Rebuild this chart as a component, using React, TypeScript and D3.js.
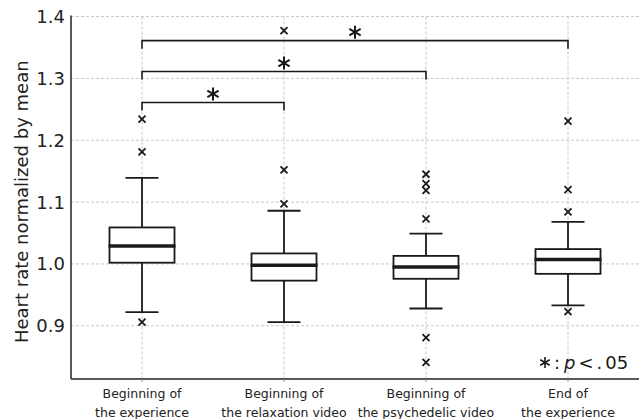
import React, { useEffect, useRef } from 'react';
import * as d3 from 'd3';

const categories = ['c1', 'c2', 'c3', 'c4'];
const categoryLabels = [
  ['Beginning of', 'the experience'],
  ['Beginning of', 'the relaxation video'],
  ['Beginning of', 'the psychedelic video'],
  ['End of', 'the experience'],
];
const whiskerLow = [0.922, 0.906, 0.928, 0.933];
const q1 = [1.002, 0.973, 0.976, 0.984];
const median = [1.029, 0.998, 0.995, 1.007];
const q3 = [1.059, 1.017, 1.013, 1.024];
const whiskerHigh = [1.139, 1.086, 1.049, 1.068];
const outliers = [
  [1.234, 1.181, 0.906],
  [1.377, 1.152, 1.097],
  [1.145, 1.13, 1.119, 1.073, 0.881, 0.841],
  [1.231, 1.12, 1.084, 0.923],
];
const brackets = [
  { from: 0, to: 1, level: 1.261 },
  { from: 0, to: 2, level: 1.311 },
  { from: 0, to: 3, level: 1.361 },
];
const yTicks = [0.9, 1.0, 1.1, 1.2, 1.3, 1.4];

const FONT = '"DejaVu Sans", sans-serif';

const App = () => {
  const svgRef = useRef<SVGSVGElement>(null);

  useEffect(() => {
    const width = 641;
    const height = 419;
    const left = 71;
    const right = 639;
    const top = 16.5;
    const bottom = 379;

    const svg = d3.select(svgRef.current);
    svg.selectAll('*').remove();
    svg.attr('width', width).attr('height', height);

    const x = d3.scaleBand().domain(categories).range([left, right]).padding(0);
    const cx = (i: number) => (x(categories[i]) as number) + x.bandwidth() / 2;
    const y = d3.scaleLinear().domain([0.814, 1.4]).range([bottom, top]);

    // grid
    const grid = svg.append('g')
      .attr('stroke', '#c8c8c8')
      .attr('stroke-width', 1)
      .attr('stroke-dasharray', '3,2');
    yTicks.forEach(t => {
      grid.append('line')
        .attr('x1', left).attr('x2', width)
        .attr('y1', y(t)).attr('y2', y(t));
    });
    categories.forEach((_, i) => {
      grid.append('line')
        .attr('x1', cx(i)).attr('x2', cx(i))
        .attr('y1', top).attr('y2', bottom);
    });

    // axes
    svg.append('line')
      .attr('x1', left).attr('x2', left)
      .attr('y1', top - 1).attr('y2', bottom)
      .attr('stroke', '#222').attr('stroke-width', 1.5);
    svg.append('line')
      .attr('x1', left).attr('x2', right)
      .attr('y1', bottom).attr('y2', bottom)
      .attr('stroke', '#222').attr('stroke-width', 1.5);

    yTicks.forEach(t => {
      svg.append('text')
        .attr('x', left - 6)
        .attr('y', y(t))
        .attr('dy', '0.36em')
        .attr('text-anchor', 'end')
        .attr('font-family', FONT)
        .attr('font-size', 18)
        .attr('fill', '#222')
        .text(d3.format('.1f')(t));
    });

    categoryLabels.forEach((lines, i) => {
      svg.append('line')
        .attr('x1', cx(i)).attr('x2', cx(i))
        .attr('y1', bottom).attr('y2', bottom + 3)
        .attr('stroke', '#888').attr('stroke-width', 1);
      lines.forEach((ln, j) => {
        svg.append('text')
          .attr('x', cx(i))
          .attr('y', 398 + j * 18.5)
          .attr('text-anchor', 'middle')
          .attr('font-family', FONT)
          .attr('font-size', 12.5)
          .attr('fill', '#222')
          .text(ln);
      });
    });

    // y label
    svg.append('text')
      .attr('transform', `translate(28,${(top + bottom) / 2 + 4}) rotate(-90)`)
      .attr('text-anchor', 'middle')
      .attr('font-family', FONT)
      .attr('font-size', 18)
      .attr('fill', '#222')
      .text('Heart rate normalized by mean');

    // boxes
    const boxW = 65;
    const capW = 33;
    categories.forEach((_, i) => {
      const g = svg.append('g').attr('stroke', '#1a1a1a').attr('fill', 'none');
      const c = cx(i);
      g.append('line').attr('x1', c).attr('x2', c)
        .attr('y1', y(whiskerHigh[i])).attr('y2', y(q3[i])).attr('stroke-width', 1.8);
      g.append('line').attr('x1', c).attr('x2', c)
        .attr('y1', y(q1[i])).attr('y2', y(whiskerLow[i])).attr('stroke-width', 1.8);
      [whiskerHigh[i], whiskerLow[i]].forEach(v => {
        g.append('line')
          .attr('x1', c - capW / 2).attr('x2', c + capW / 2)
          .attr('y1', y(v)).attr('y2', y(v)).attr('stroke-width', 1.8);
      });
      g.append('rect')
        .attr('x', c - boxW / 2).attr('width', boxW)
        .attr('y', y(q3[i])).attr('height', y(q1[i]) - y(q3[i]))
        .attr('fill', 'white').attr('stroke-width', 1.8);
      g.append('line')
        .attr('x1', c - boxW / 2 - 1).attr('x2', c + boxW / 2 + 1)
        .attr('y1', y(median[i])).attr('y2', y(median[i]))
        .attr('stroke-width', 3.5);
      outliers[i].forEach(v => {
        const s = 3.5;
        const py = y(v);
        g.append('path')
          .attr('d', `M${c - s},${py - s}L${c + s},${py + s}M${c - s},${py + s}L${c + s},${py - s}`)
          .attr('stroke-width', 1.8);
      });
    });

    // significance brackets with six-spoke asterisks
    const asterisk = (ax: number, ay: number, r: number) => {
      const dx = r * Math.cos(Math.PI / 6);
      const dy = r * Math.sin(Math.PI / 6);
      return `M${ax},${ay - r}V${ay + r}M${ax - dx},${ay - dy}L${ax + dx},${ay + dy}M${ax - dx},${ay + dy}L${ax + dx},${ay - dy}`;
    };
    brackets.forEach(b => {
      const x1 = cx(b.from);
      const x2 = cx(b.to);
      const by = y(b.level);
      svg.append('path')
        .attr('d', `M${x1},${by + 8}V${by}H${x2}V${by + 8}`)
        .attr('fill', 'none')
        .attr('stroke', '#1a1a1a')
        .attr('stroke-width', 1.6);
      svg.append('path')
        .attr('d', asterisk((x1 + x2) / 2, by - 8.5, 6.5))
        .attr('fill', 'none')
        .attr('stroke', '#1a1a1a')
        .attr('stroke-width', 2);
    });

    // p-value note
    svg.append('path')
      .attr('d', asterisk(545, 362.5, 5.5))
      .attr('fill', 'none')
      .attr('stroke', '#1a1a1a')
      .attr('stroke-width', 1.6);
    const note = svg.append('text')
      .attr('x', 554)
      .attr('y', 369)
      .attr('text-anchor', 'start')
      .attr('font-family', FONT)
      .attr('font-size', 18)
      .attr('fill', '#1a1a1a');
    note.append('tspan').text(':');
    note.append('tspan').attr('dx', 4).attr('font-style', 'italic').text('p');
    note.append('tspan').attr('dx', 3).text('<');
    note.append('tspan').attr('dx', 3).text('.');
    note.append('tspan').attr('dx', 3).text('05');
  }, []);

  return <svg ref={svgRef} style={{ position: 'absolute', left: 0, top: 0 }} />;
};

export default App;
